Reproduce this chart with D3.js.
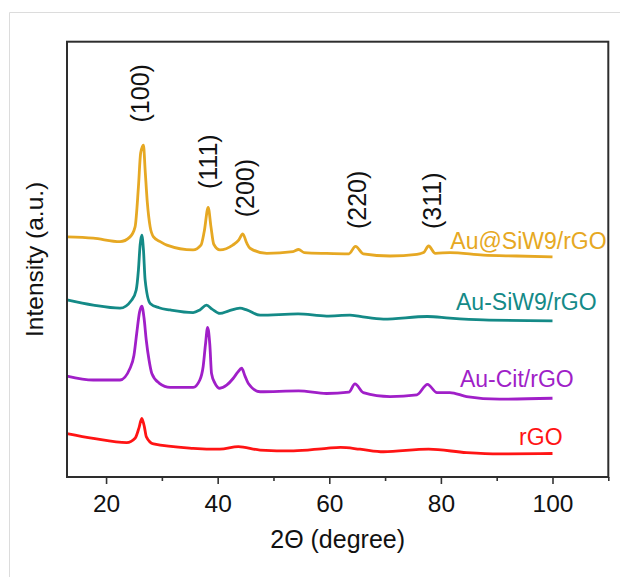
<!DOCTYPE html>
<html>
<head>
<meta charset="utf-8">
<script src="https://cdn.jsdelivr.net/npm/d3@7"></script>
<style>
  html, body { margin: 0; padding: 0; background: #fff; }
  svg { display: block; }
  text { font-family: Arial, "Liberation Sans", sans-serif; }
</style>
</head>
<body>
<svg id="chart" width="620" height="577"></svg>
<script>
// ---- data (2θ in degrees, intensity in arbitrary units, traces stacked as drawn) ----
const seriesNames = ["Au@SiW9/rGO", "Au-SiW9/rGO", "Au-Cit/rGO", "rGO"];
const seriesColors = ["#E6A823", "#148A87", "#A01FC8", "#FF1414"];

const goldX = [13, 17.7, 22.5, 24.3, 25.2, 25.8, 26.2, 26.7, 27.0, 27.4, 27.9, 28.5, 29.7, 30.9, 35.6, 37.0, 37.6, 38.3, 38.8, 39.3, 40.4, 42.7, 43.8, 44.5, 45.2, 45.8, 48.8, 53.5, 54.5, 55.5, 59.5, 63.5, 64.7, 66.1, 70.9, 75.7, 76.9, 77.8, 79.0, 81.6, 87.6, 93.6, 100];
const goldY = [552, 549, 541, 552, 575, 667, 745, 763, 706, 630, 575, 552, 541, 533, 522, 533, 565, 620, 575, 535, 522, 533, 545, 559, 538, 526, 514, 518, 523, 516, 514, 513, 530, 513, 508, 512, 516, 531, 514, 516, 510, 508, 506];

const tealX = [13, 17.7, 22.5, 24.6, 25.4, 25.8, 26.1, 26.4, 26.7, 27.0, 27.9, 29.5, 31.5, 35.6, 36.8, 38.0, 39.0, 40.4, 42.0, 44.0, 45.2, 47.6, 54.4, 59.5, 63.7, 65.5, 69.7, 77.6, 81.6, 87.6, 100];
const tealY = [407, 395, 388, 407, 430, 476, 533, 556, 522, 453, 399, 389, 384, 378, 384, 395, 386, 376, 382, 388, 384, 372, 375, 370, 372, 369, 363, 369, 365, 361, 359];

const purpleX = [13, 17.7, 22.5, 24.3, 25.0, 25.5, 26.0, 26.4, 26.8, 27.2, 27.7, 28.2, 29.5, 31.5, 35.6, 36.8, 37.4, 37.8, 38.2, 38.6, 38.9, 39.5, 40.4, 41.6, 42.8, 43.6, 44.3, 44.9, 45.5, 47.6, 54.5, 59.5, 63.5, 64.6, 66.1, 70.9, 75.7, 77.6, 79.3, 81.6, 84.6, 90.5, 100];
const purpleY = [232, 223, 223, 250, 280, 331, 379, 393, 366, 315, 269, 238, 216, 206, 206, 223, 254, 303, 344, 303, 238, 216, 204, 211, 227, 241, 250, 232, 215, 196, 198, 192, 195, 214, 194, 185, 189, 213, 194, 194, 185, 179, 181];

const redX = [13, 17.7, 23.7, 25.2, 25.9, 26.4, 26.9, 27.2, 28.5, 35.6, 40.4, 43.7, 47.6, 53.6, 59.5, 62, 65.5, 69.7, 77.8, 84.6, 90.5, 100];
const redY = [100, 89, 79, 89, 113, 135, 113, 93, 76, 66, 64, 70, 62, 60, 66, 68, 64, 58, 64, 56, 53, 54];

// series label anchors (end of text) in data units
const labelX = [109.7, 107.9, 103.8, 101.8];
const labelY = [525, 385, 207, 73];

// peak (hkl) annotations
const peakLabels = ["(100)", "(111)", "(200)", "(220)", "(311)"];
const peakLabelX = [27.7, 39.9, 46.5, 66.5, 80.0];
const peakLabelY = [815, 662, 597, 570, 570];

const xTicks = [20, 40, 60, 80, 100];
const xMinorTicks = [30, 50, 70, 90, 110];

// ---- drawing ----
const svg = d3.select("#chart");
const mLeft = 67, mRight = 608.3, mTop = 41.7, mBottom = 477;
const x = d3.scaleLinear().domain([13, 110]).range([mLeft, mRight]);
const y = d3.scaleLinear().domain([0, 1000]).range([mBottom, 42]);

// faint outer border
svg.append("line").attr("x1", 9.5).attr("x2", 9.5).attr("y1", 12.5).attr("y2", 577)
  .attr("stroke", "#dcdcdc").attr("stroke-width", 1);
svg.append("line").attr("x1", 9.5).attr("x2", 620).attr("y1", 12.5).attr("y2", 12.5)
  .attr("stroke", "#dcdcdc").attr("stroke-width", 1);

const seriesX = [goldX, tealX, purpleX, redX];
const seriesY = [goldY, tealY, purpleY, redY];

const line = d3.line().x(d => x(d[0])).y(d => y(d[1])).curve(d3.curveMonotoneX);

seriesNames.forEach((name, i) => {
  const pts = seriesX[i].map((v, j) => [v, seriesY[i][j]]);
  svg.append("path")
    .datum(pts)
    .attr("d", line)
    .attr("fill", "none")
    .attr("stroke", seriesColors[i])
    .attr("stroke-width", 2.8)
    .attr("stroke-linejoin", "round");
  svg.append("text")
    .attr("x", x(labelX[i]))
    .attr("y", y(labelY[i]))
    .attr("text-anchor", "end")
    .attr("font-size", 23)
    .attr("fill", seriesColors[i])
    .text(name);
});

// peak labels
peakLabels.forEach((t, i) => {
  const px = x(peakLabelX[i]), py = y(peakLabelY[i]);
  svg.append("text")
    .attr("transform", `translate(${px},${py}) rotate(-90)`)
    .attr("font-size", 25)
    .attr("fill", "#111")
    .text(t);
});

// axes
const xAxis = d3.axisBottom(x).tickValues(xTicks).tickSize(7).tickPadding(11);
const gx = svg.append("g").attr("transform", `translate(0,${mBottom})`).call(xAxis);
gx.select(".domain").remove();
gx.selectAll(".tick line").attr("stroke", "#333").attr("stroke-width", 1.6);
gx.selectAll(".tick text").attr("font-size", 24.5).attr("fill", "#111")
  .style("font-family", "Arial, 'Liberation Sans', sans-serif");

const xMinor = d3.axisBottom(x).tickValues(xMinorTicks).tickSize(4).tickFormat("");
const gxm = svg.append("g").attr("transform", `translate(0,${mBottom})`).call(xMinor);
gxm.select(".domain").remove();
gxm.selectAll(".tick line").attr("stroke", "#333").attr("stroke-width", 1.6);

// frame
svg.append("rect")
  .attr("x", mLeft).attr("y", mTop)
  .attr("width", mRight - mLeft).attr("height", mBottom - mTop)
  .attr("fill", "none").attr("stroke", "#2e2e2e").attr("stroke-width", 2);

// axis titles
svg.append("text")
  .attr("x", (mLeft + mRight) / 2).attr("y", 548.4)
  .attr("text-anchor", "middle").attr("font-size", 25).attr("fill", "#111")
  .text("2Θ (degree)");
svg.append("text")
  .attr("transform", `translate(43.3,${(mTop + mBottom) / 2}) rotate(-90)`)
  .attr("text-anchor", "middle").attr("font-size", 24.5).attr("fill", "#111")
  .text("Intensity (a.u.)");
</script>
</body>
</html>
